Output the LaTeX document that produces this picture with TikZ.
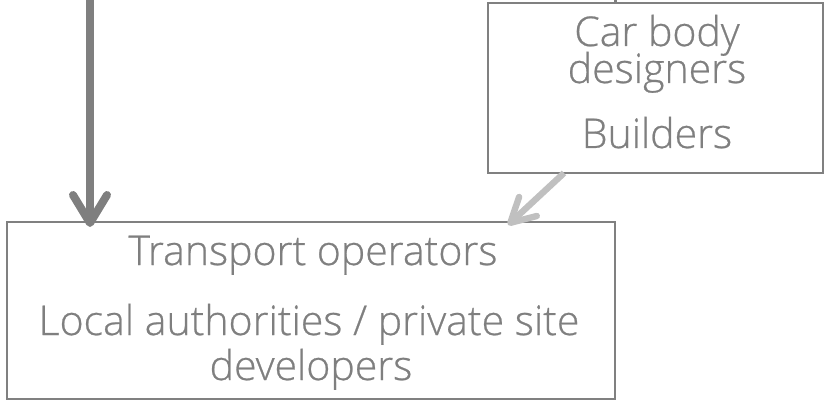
\documentclass[tikz,border=0pt]{standalone}
\usepackage{fontspec}
\setmainfont{Open Sans}[UprightFont={* Light}, FakeBold=0.6]
\usetikzlibrary{arrows.meta}
\definecolor{txtgray}{HTML}{7F7F7F}
\definecolor{boxgray}{HTML}{808080}
\definecolor{darkarrow}{HTML}{7F7F7F}
\definecolor{lightarrow}{HTML}{C0C0C0}
\tikzset{
  box/.style={draw=boxgray, line width=1pt, rectangle, inner sep=0pt},
  lbl/.style={text=txtgray, inner sep=0pt, anchor=base, font=\fontsize{20.5}{21.5}\selectfont},
  bigarrow/.style={draw=darkarrow, line width=4pt, -{Straight Barb[length=14pt,width=17pt,round]}},
  smallarrow/.style={draw=lightarrow, line width=3.2pt, -{Straight Barb[length=12pt,width=13pt,round]}},
}
\begin{document}
\begin{tikzpicture}[x=0.5pt,y=-0.5pt]
\useasboundingbox (0,0) rectangle (825,401);
% right box
\node[box, minimum width=335*0.5pt, minimum height=170*0.5pt] (designers) at (655.5,88) {};
\node[lbl] (carbody) at (657,46) {Car body};
\node[lbl] (design) at (657,83) {designers};
\node[lbl] (builders) at (657,148) {Builders};
% bottom box
\node[box, minimum width=608*0.5pt, minimum height=177*0.5pt] (operators) at (311,310.5) {};
\node[lbl] (transport) at (313,265) {Transport operators};
\node[lbl] (local) at (309,335) {Local authorities / private site};
\node[lbl] (devel) at (311,380) {developers};
% connectors
\coordinate (top) at (90,0);
\coordinate (topright) at (615,0);
\coordinate (darktip) at (90,227);
\coordinate (lightstart) at (564,173);
\coordinate (lighttip) at (508,225);
\draw[draw=darkarrow, line width=1.5pt] (topright) -- (designers.north -| topright);
\draw[bigarrow] (top) -- (darktip);
\draw[smallarrow] (lightstart) -- (lighttip);
\end{tikzpicture}
\end{document}
